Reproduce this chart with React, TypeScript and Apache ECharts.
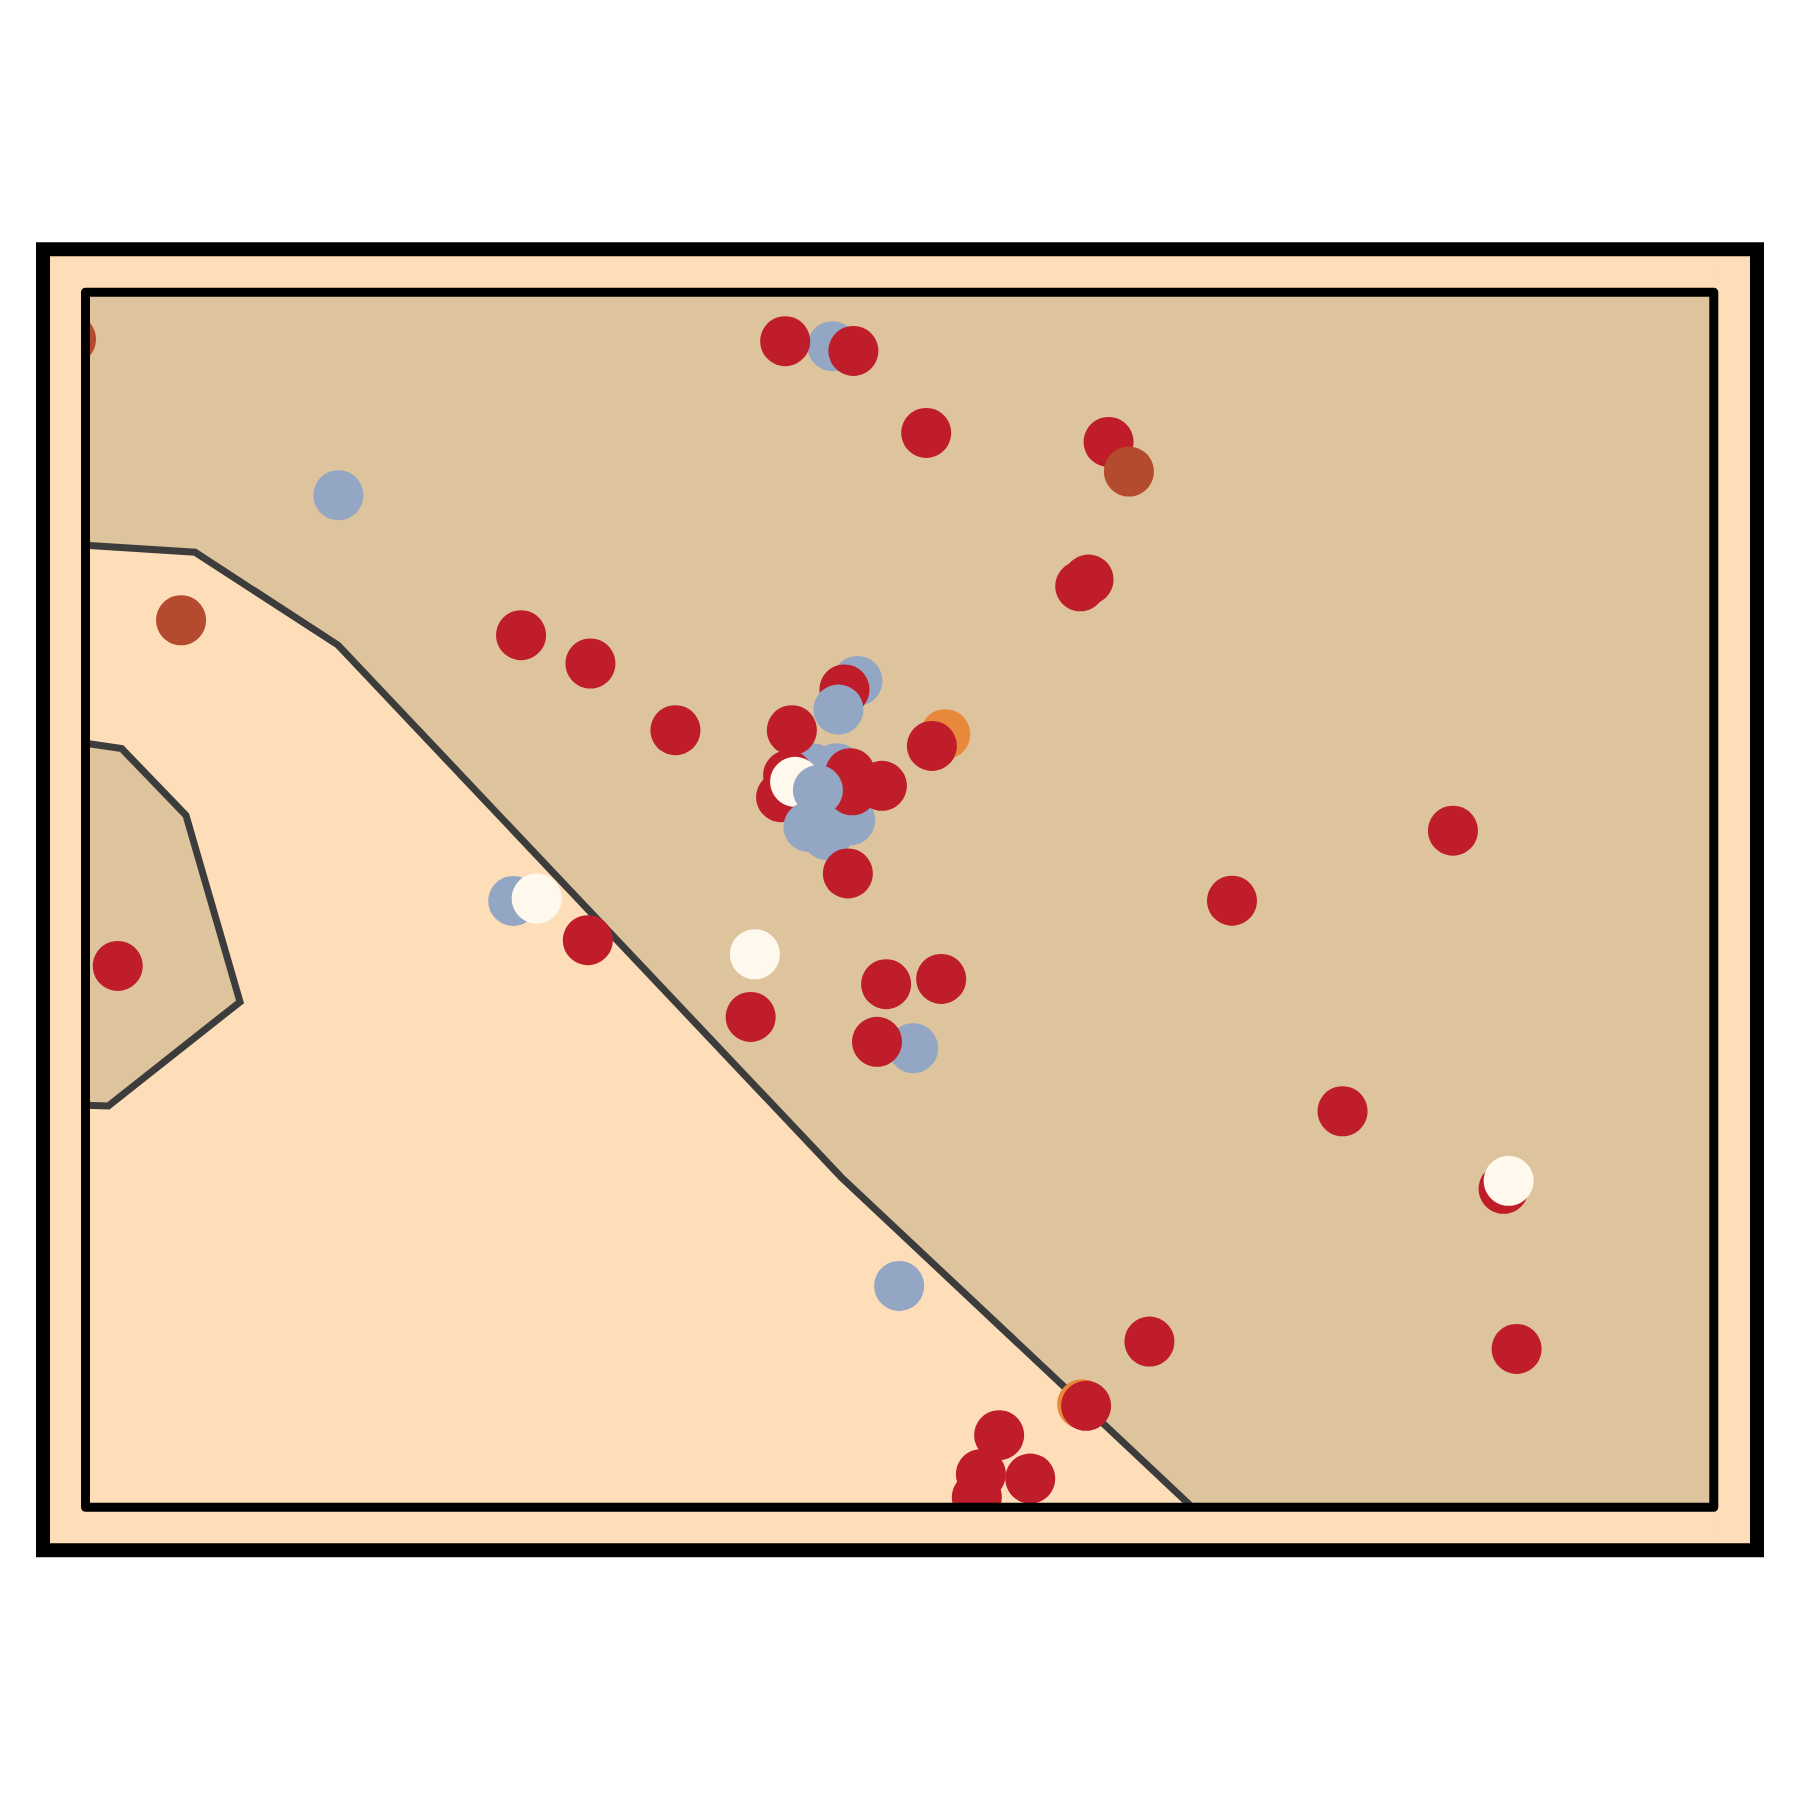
import React, { useEffect, useRef } from "react";
import * as echarts from "echarts";

// Points in drawing order (x, y in data units 0..100, class label)
const pointX = [
  45.87, 47.41, 50.83, 44.63, 46.14, 46.96, 26.27,
  52.8, 61.21,
  42.97, 47.16, 51.63, 62.83, 61.6, 61.09, 26.75, 31.01, 36.23, 46.61, 43.38, 51.98,
  42.72, 43.15, 46.96, 47.08, 48.91, 83.98, 70.41, 30.85, 1.98, 49.17, 52.55, 40.85,
  48.61, 77.2, 87.09, 65.34, 87.89, 61.45, 56.11, 54.99, 58.02, 54.74,
  27.71, 41.11, 87.4, 43.58,
  46.24, 44.98, 44.4, 45.53, 15.53, 49.97,
  46.82,
  -0.89, 64.08, 5.87,
];
const pointY = [
  95.56, 68.01, 37.78, 60.82, 60.82, 56.54, 49.9,
  63.62, 8.48,
  95.97, 95.17, 88.42, 87.68, 76.35, 75.8, 71.77, 69.44, 63.95, 67.3, 63.95, 62.66,
  58.44, 60.25, 60.41, 59.01, 59.37, 55.68, 49.92, 46.67, 44.55, 43.05, 43.48, 40.35,
  38.3, 32.59, 26.2, 13.63, 13.03, 8.34, 5.93, 2.72, 2.36, 0.82,
  50.1, 45.51, 26.86, 59.7,
  65.65, 59.01, 55.99, 55.31, 83.29, 18.21,
  52.16,
  96.13, 85.24, 73.0,
];
const pointClass = [
  "blue", "blue", "blue", "blue", "blue", "blue", "blue",
  "orange", "orange",
  "red", "red", "red", "red", "red", "red", "red", "red", "red", "red", "red", "red",
  "red", "red", "red", "red", "red", "red", "red", "red", "red", "red", "red", "red",
  "red", "red", "red", "red", "red", "red", "red", "red", "red", "red",
  "cream", "cream", "cream", "cream",
  "blue", "blue", "blue", "blue", "blue", "blue",
  "red",
  "brown", "brown", "brown",
];

const classColors: Record<string, string> = {
  red: "#BE1D29",
  blue: "#93A7C4",
  cream: "#FFF9ED",
  orange: "#E8883A",
  brown: "#B44B2E",
};

// Decision regions (tan) and their boundaries
const regionMainX = [0, 100, 100, 67.97, 46.41, 15.51, 6.73, 0];
const regionMainY = [100, 100, 0, 0, 27.16, 70.95, 78.6, 79.18];
const boundaryMainX = [0, 6.73, 15.51, 46.41, 67.97];
const boundaryMainY = [79.18, 78.6, 70.95, 27.16, 0];
const regionPocketX = [0, 2.22, 6.17, 9.49, 1.4, 0];
const regionPocketY = [62.88, 62.44, 56.95, 41.59, 33.03, 33.09];

const PEACH = "#FDDEB9";
const TAN = "#DEC49D";
const LINE = "#3C3C3C";

function polygonRenderer(xs: number[], ys: number[], fill: string) {
  return (_params: any, api: any) => ({
    type: "polygon",
    shape: { points: xs.map((x, i) => api.coord([x, ys[i]])) },
    style: { fill },
  });
}

function polylineRenderer(xs: number[], ys: number[], stroke: string) {
  return (_params: any, api: any) => ({
    type: "polyline",
    shape: { points: xs.map((x, i) => api.coord([x, ys[i]])) },
    style: { stroke, lineWidth: 7, fill: "none", lineJoin: "miter" },
  });
}

export default function App() {
  const ref = useRef<HTMLDivElement>(null);

  useEffect(() => {
    if (!ref.current) return;
    const chart = echarts.init(ref.current, undefined, { renderer: "svg" });

    const gl = 85.5, gt = 292.2, gw = 1628.3, gh = 1215;

    const scatterData = pointX.map((x, i) => ({
      value: [x, pointY[i]],
      itemStyle: { color: classColors[pointClass[i]], opacity: 1 },
    }));

    chart.setOption({
      animation: false,
      backgroundColor: "#ffffff",
      grid: {
        left: gl,
        top: gt,
        width: gw,
        height: gh,
        show: true,
        backgroundColor: PEACH,
        borderWidth: 0,
      },
      xAxis: { type: "value", min: 0, max: 100, show: false },
      yAxis: { type: "value", min: 0, max: 100, show: false },
      series: [
        {
          type: "custom",
          renderItem: polygonRenderer(regionMainX, regionMainY, TAN),
          data: [[0, 0]],
          z: 1,
          silent: true,
        },
        {
          type: "custom",
          renderItem: polygonRenderer(regionPocketX, regionPocketY, TAN),
          data: [[0, 0]],
          z: 1,
          silent: true,
        },
        {
          type: "custom",
          renderItem: polylineRenderer(boundaryMainX, boundaryMainY, LINE),
          data: [[0, 0]],
          z: 2,
          silent: true,
        },
        {
          type: "custom",
          renderItem: polylineRenderer(regionPocketX, regionPocketY, LINE),
          data: [[0, 0]],
          z: 2,
          silent: true,
        },
        {
          type: "scatter",
          data: scatterData,
          symbol: "circle",
          symbolSize: 50,
          clip: false,
          z: 3,
          silent: true,
          itemStyle: { opacity: 1 },
          emphasis: { disabled: true },
        },
      ],
      graphic: [
        // margin bands covering anything outside the plot area
        { type: "rect", z: 100, silent: true, shape: { x: 43, y: 249, width: 1714, height: gt - 249 }, style: { fill: PEACH } },
        { type: "rect", z: 100, silent: true, shape: { x: 43, y: gt + gh, width: 1714, height: 1551 - (gt + gh) }, style: { fill: PEACH } },
        { type: "rect", z: 100, silent: true, shape: { x: 43, y: 249, width: gl - 43, height: 1302 }, style: { fill: PEACH } },
        { type: "rect", z: 100, silent: true, shape: { x: gl + gw, y: 249, width: 1757 - (gl + gw), height: 1302 }, style: { fill: PEACH } },
        // inner plot frame
        { type: "rect", z: 101, silent: true, shape: { x: gl, y: gt, width: gw, height: gh }, style: { fill: "none", stroke: "#000000", lineWidth: 9, lineJoin: "round" } },
        // outer frame
        { type: "rect", z: 102, silent: true, shape: { x: 43, y: 249.2, width: 1714, height: 1301.1 }, style: { fill: "none", stroke: "#000000", lineWidth: 14, lineJoin: "miter" } },
      ],
    });

    return () => chart.dispose();
  }, []);

  return (
    <div
      ref={ref}
      style={{ position: "fixed", left: 0, top: 0, width: 1800, height: 1800 }}
    />
  );
}
